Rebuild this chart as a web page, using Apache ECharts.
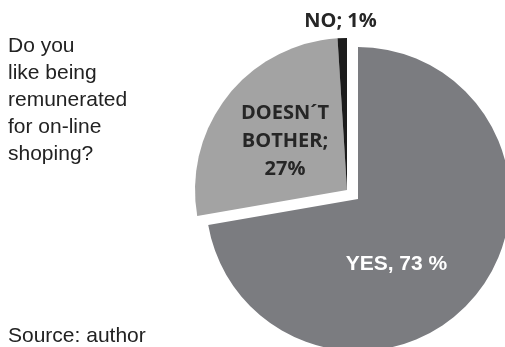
<!DOCTYPE html>
<html>
<head>
<meta charset="utf-8">
<script src="https://cdn.jsdelivr.net/npm/echarts@6/dist/echarts.min.js"></script>
<style>
  html, body { margin: 0; padding: 0; background: #fff; }
  #chart { width: 505px; height: 347px; }
</style>
</head>
<body>
<div id="chart"></div>
<script>
// answers and their shares (%)
var categories = ["YES", "DOESN\u00B4T\nBOTHER", "NO"];
var shares = [73, 27, 1];
// slices pulled out of the pie together
var detached = [false, true, true];

var sliceColors = ["#7b7c80", "#a3a3a3", "#1c1c1c"];
var labelShift = [[-22, 14], [0, 0], [-4, -90]];

var labelStyles = [
  { color: "#ffffff", fontFamily: "Liberation Sans", fontWeight: "bold", fontSize: 21 },
  { color: "#262626", fontFamily: "Open Sans", fontWeight: "bold", fontSize: 20, lineHeight: 28 },
  { color: "#262626", fontFamily: "Open Sans", fontWeight: "bold", fontSize: 20 }
];

function labelText(i) {
  if (i === 0) return categories[i] + ", " + shares[i] + " %";
  return categories[i] + ";" + (i === 1 ? "\n" : " ") + shares[i] + "%";
}

function buildSeries(showDetached, center) {
  return {
    type: "pie",
    center: center,
    radius: 152,
    startAngle: 90,
    clockwise: true,
    silent: true,
    animation: false,
    emphasis: { disabled: true },
    labelLine: { show: false },
    data: categories.map(function (name, i) {
      var visible = detached[i] === showDetached;
      var label = { show: visible, position: "inside", formatter: labelText(i) };
      Object.assign(label, labelStyles[i]);
      return {
        name: name,
        value: shares[i],
        itemStyle: { color: visible ? sliceColors[i] : "transparent" },
        label: label
      };
    }),
    labelLayout: function (params) {
      var s = labelShift[params.dataIndex];
      return { dx: s[0], dy: s[1] };
    }
  };
}

var chart = echarts.init(document.getElementById("chart"));
chart.setOption({
  backgroundColor: "#ffffff",
  title: [
    {
      text: "Do you\nlike being\nremunerated\nfor on-line\nshoping?",
      left: 8,
      top: 33,
      padding: 0,
      textStyle: { fontFamily: "Liberation Sans", fontWeight: "normal", fontSize: 21, lineHeight: 27, color: "#222" }
    },
    {
      text: "Source: author",
      left: 8,
      top: 323,
      padding: 0,
      textStyle: { fontFamily: "Liberation Sans", fontWeight: "normal", fontSize: 21, lineHeight: 27, color: "#222" }
    }
  ],
  series: [
    buildSeries(false, [358, 199]),
    buildSeries(true, [347, 190])
  ]
});
</script>
</body>
</html>
